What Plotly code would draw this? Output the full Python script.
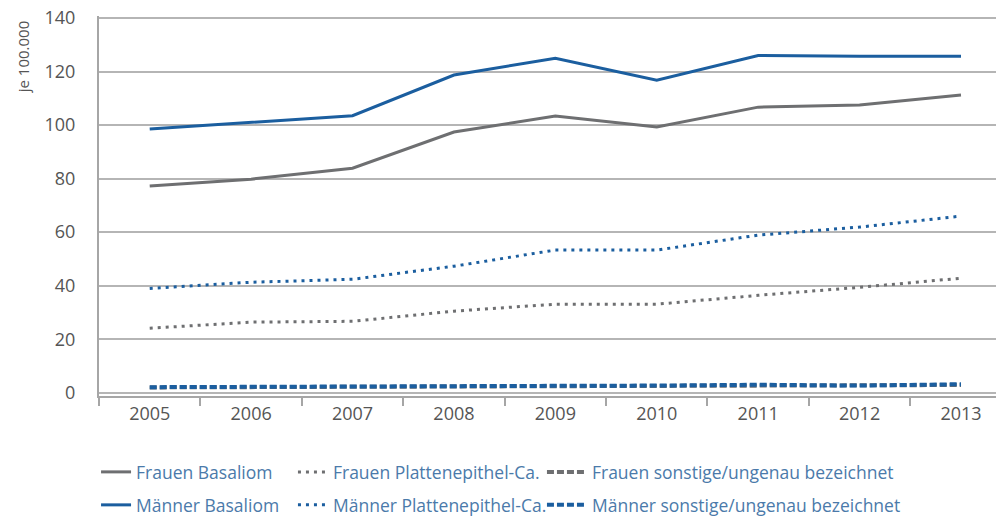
import plotly.graph_objects as go

# Jahre und Raten je 100.000
years = ["2005", "2006", "2007", "2008", "2009", "2010", "2011", "2012", "2013"]

frauen_basaliom = [77.2, 79.8, 83.9, 97.4, 103.4, 99.3, 106.7, 107.5, 111.2]
maenner_basaliom = [98.5, 101.0, 103.5, 118.7, 125.0, 116.8, 126.0, 125.7, 125.7]
frauen_platten = [24.1, 26.4, 26.7, 30.5, 33.1, 33.1, 36.4, 39.4, 42.8]
maenner_platten = [39.0, 41.3, 42.4, 47.3, 53.3, 53.3, 58.9, 61.9, 66.0]
frauen_sonstige = [2.0, 2.1, 2.3, 2.4, 2.4, 2.5, 2.7, 2.5, 2.9]
maenner_sonstige = [2.1, 2.3, 2.5, 2.6, 2.6, 2.7, 3.0, 2.7, 3.2]

grey = "#6e6f71"
blue = "#1b5e9f"
text_grey = "#555555"
legend_blue = "#4b7aaa"
font = "Open Sans"

series = [
    ("Frauen Basaliom", frauen_basaliom, grey, "solid", 3, "legend"),
    ("Frauen Plattenepithel-Ca.", frauen_platten, grey, "3px,5px", 3, "legend2"),
    ("Frauen sonstige/ungenau bezeichnet", frauen_sonstige, grey, "7px,3px", 4, "legend3"),
    ("Männer Basaliom", maenner_basaliom, blue, "solid", 3, "legend4"),
    ("Männer Plattenepithel-Ca.", maenner_platten, blue, "3px,5px", 3, "legend5"),
    ("Männer sonstige/ungenau bezeichnet", maenner_sonstige, blue, "7px,3px", 4, "legend6"),
]

fig = go.Figure()
for name, vals, col, dash, w, leg in series:
    fig.add_trace(go.Scatter(x=years, y=vals, mode="lines", name=name,
                             line=dict(color=col, width=w, dash=dash),
                             legend=leg, showlegend=True))

# legend positions (container coords): 3 columns x 2 rows
col_x = [0.0884, 0.2861, 0.5361]
col_w = [30, 30, 40]
row_y = [0.0884, 0.0236]
legends = {}
names = ["legend", "legend2", "legend3", "legend4", "legend5", "legend6"]
for i, ln in enumerate(names):
    legends[ln] = dict(x=col_x[i % 3], y=row_y[i // 3], xref="container", yref="container",
                       xanchor="left", yanchor="middle",
                       orientation="v", bgcolor="rgba(0,0,0,0)", itemwidth=col_w[i % 3],
                       font=dict(family=font, size=17.5, color=legend_blue))

# page body has an 8px margin, so the figure is 8px smaller than the window
fig.update_layout(
    width=996, height=509,
    showlegend=True,
    margin=dict(l=91, r=0, t=8, b=121, autoexpand=False),
    plot_bgcolor="white", paper_bgcolor="white",
    font=dict(family=font, size=17, color=text_grey),
    xaxis=dict(type="category", range=[-0.5, 8.424], showgrid=False, automargin=False,
               showline=True, linecolor="#a6a6a6", linewidth=2,
               ticks="outside", tickson="boundaries", ticklen=8,
               tickcolor="#a6a6a6", tickwidth=2,
               tickfont=dict(size=18, color=text_grey)),
    yaxis=dict(range=[-1.2, 140.75], tickvals=[0, 20, 40, 60, 80, 100, 120, 140],
               showgrid=True, gridcolor="#b5b5b5", gridwidth=2, automargin=False,
               zeroline=False, showline=True, linecolor="#a6a6a6", linewidth=2,
               ticks="", ticklabelstandoff=18, ticklabeloverflow="allow",
               tickfont=dict(size=18, color=text_grey)),
    annotations=[dict(text="je 100.000", textangle=-90, xref="paper", yref="paper",
                      x=-0.084, y=0.894, xanchor="center", yanchor="middle", showarrow=False,
                      font=dict(family=font, size=15, color=text_grey))],
    **legends,
)

fig.write_html("out.html")
